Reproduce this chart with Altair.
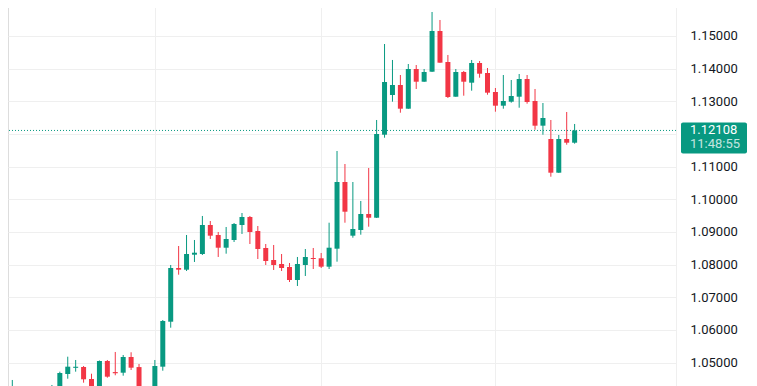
import altair as alt
import pandas as pd

# ---- data (daily candles) ----
open_ = [1.04180, 1.04260, 1.04000, 1.04100, 1.04150, 1.04200, 1.04260, 1.04653, 1.04842, 1.04868,
         1.04500, 1.04220, 1.05051, 1.04712, 1.04693, 1.05174, 1.04865, 1.04150, 1.04200, 1.04877,
         1.06254, 1.07898, 1.07846, 1.08305, 1.08326, 1.09214, 1.08908, 1.08519, 1.08755, 1.09214,
         1.09459, 1.09030, 1.08510, 1.08143, 1.08020, 1.07928, 1.07531, 1.07990, 1.08204, 1.08195,
         1.07938, 1.08489, 1.10530, 1.08887, 1.09061, 1.09551, 1.09437, 1.11978, 1.13193, 1.13499,
         1.12774, 1.13989, 1.13600, 1.13906, 1.15152, 1.14203, 1.13141, 1.13897, 1.13570, 1.14173,
         1.13867, 1.13285, 1.12866, 1.12988, 1.13141, 1.13683, 1.13010, 1.12254, 1.11846, 1.10815,
         1.11846, 1.11733]
high = [1.04470, 1.04270, 1.04200, 1.04250, 1.04260, 1.04317, 1.04724, 1.05183, 1.05082, 1.04898,
        1.04662, 1.05066, 1.05082, 1.05327, 1.05235, 1.05318, 1.04959, 1.04260, 1.05082, 1.06306,
        1.07990, 1.08571, 1.08908, 1.08755, 1.09490, 1.09336, 1.09000, 1.09153, 1.09275, 1.09581,
        1.09490, 1.09183, 1.08632, 1.08602, 1.08326, 1.08051, 1.08235, 1.08479, 1.08510, 1.08357,
        1.09284, 1.11479, 1.11081, 1.10530, 1.09949, 1.10959, 1.12428, 1.14754, 1.14265, 1.13805,
        1.14142, 1.14111, 1.13989, 1.15734, 1.15489, 1.14418, 1.13989, 1.13928, 1.14265, 1.14234,
        1.14020, 1.13407, 1.13805, 1.13652, 1.13836, 1.13805, 1.13377, 1.12948, 1.12428, 1.11969,
        1.12673, 1.12306]
low = [1.04150, 1.03950, 1.03850, 1.03950, 1.04000, 1.04100, 1.04200, 1.04509, 1.04724, 1.04387,
       1.04150, 1.04180, 1.04540, 1.04614, 1.04601, 1.04776, 1.04050, 1.03950, 1.04100, 1.04754,
       1.06070, 1.07693, 1.07806, 1.08082, 1.08296, 1.08786, 1.08235, 1.08336, 1.08694, 1.08939,
       1.08632, 1.08173, 1.07990, 1.07837, 1.07806, 1.07469, 1.07347, 1.07653, 1.07867, 1.07898,
       1.07867, 1.08091, 1.09284, 1.08825, 1.08917, 1.09162, 1.09430, 1.11886, 1.12988, 1.12651,
       1.12770, 1.13377, 1.13596, 1.13900, 1.14180, 1.13101, 1.13140, 1.13172, 1.13325, 1.13723,
       1.13202, 1.12682, 1.12774, 1.12958, 1.12804, 1.12927, 1.12131, 1.11978, 1.10692, 1.10810,
       1.11672, 1.11703]
close = [1.04260, 1.04000, 1.04100, 1.04150, 1.04200, 1.04260, 1.04684, 1.04877, 1.04875, 1.04491,
         1.04200, 1.05051, 1.04571, 1.04676, 1.05174, 1.04846, 1.04150, 1.04200, 1.04898, 1.06276,
         1.07898, 1.07846, 1.08326, 1.08366, 1.09214, 1.08887, 1.08519, 1.08786, 1.09245, 1.09459,
         1.09000, 1.08479, 1.08112, 1.07990, 1.07898, 1.07531, 1.08020, 1.08235, 1.08173, 1.07938,
         1.08519, 1.10530, 1.09621, 1.09092, 1.09551, 1.09437, 1.11999, 1.13591, 1.13499, 1.12774,
         1.13989, 1.13600, 1.13897, 1.15152, 1.14182, 1.13132, 1.13897, 1.13600, 1.14173, 1.13845,
         1.13264, 1.12866, 1.13010, 1.13163, 1.13683, 1.12979, 1.12254, 1.12489, 1.10815, 1.11846,
         1.11733, 1.12108]

price_ticks = [1.05, 1.06, 1.07, 1.08, 1.09, 1.10, 1.11, 1.12, 1.13, 1.14, 1.15, 1.16]
month_start_idx = [18, 39, 61]
last_price = 1.12108
last_price_text = "1.12108"
countdown_text = "11:48:55"

# ---- styling ----
UP = "#089981"
DOWN = "#F23645"
GRID = "#efefef"
TEXT = "#131722"
FONT = "Roboto"
PLOT_W = 668
PLOT_H = 386

df = pd.DataFrame({
    "idx": list(range(len(open_))),
    "open": open_, "high": high, "low": low, "close": close,
})
df["dir"] = ["up" if c >= o else "down" for o, c in zip(open_, close)]

xscale = alt.Scale(domain=[0.087, 83.17], nice=False, zero=False)
yscale = alt.Scale(domain=[1.042858, 1.16101], nice=False, zero=False)
color = alt.Color("dir:N", scale=alt.Scale(domain=["up", "down"], range=[UP, DOWN]), legend=None)

x_axis = alt.Axis(values=month_start_idx, labels=False, ticks=False, domain=False,
                  grid=True, gridColor=GRID, gridWidth=1, title=None)
# the tick hidden behind the last-price badge keeps its gridline but not its label
y_axis = alt.Axis(orient="right", values=price_ticks, format=".5f", title=None,
                  grid=True, gridColor=GRID, gridWidth=1,
                  domain=True, domainColor=GRID, ticks=False, tickSize=0,
                  labelPadding=14, labelAlign="left", labelBaseline="middle",
                  labelFont=FONT, labelFontSize=13, labelColor=TEXT,
                  labelOverlap=False,
                  labelExpr=f"abs(datum.value - {last_price}) < 0.004 ? '' : datum.label")

base = alt.Chart(df)

wicks = base.mark_rule(strokeWidth=1, clip=True).encode(
    x=alt.X("idx:Q", scale=xscale, axis=x_axis),
    y=alt.Y("low:Q", scale=yscale, axis=y_axis),
    y2="high:Q",
    color=color,
)

bodies = base.mark_bar(size=5, clip=True).encode(
    x=alt.X("idx:Q", scale=xscale, axis=x_axis),
    y=alt.Y("open:Q", scale=yscale, axis=y_axis),
    y2="close:Q",
    color=color,
)

last_line = alt.Chart(pd.DataFrame({"p": [last_price]})).mark_rule(
    color=UP, strokeWidth=1, strokeDash=[1, 2]
).encode(y=alt.Y("p:Q", scale=yscale, axis=y_axis))

label_df = pd.DataFrame({"p": [last_price], "t1": [last_price_text], "t2": [countdown_text]})
label_box = alt.Chart(label_df).mark_rect(
    color=UP, cornerRadius=2, yOffset=-8, y2Offset=23
).encode(
    y=alt.Y("p:Q", scale=yscale, axis=y_axis),
    y2="p:Q",
    x=alt.value(673), x2=alt.value(739),
)
label_t1 = alt.Chart(label_df).mark_text(
    align="left", baseline="middle", font=FONT, fontSize=13, color="#ffffff"
).encode(y=alt.Y("p:Q", scale=yscale, axis=y_axis), x=alt.value(682), text="t1:N")
label_t2 = alt.Chart(label_df).mark_text(
    align="left", baseline="middle", font=FONT, fontSize=13, color="#ffffff",
    opacity=0.75, dy=14
).encode(y=alt.Y("p:Q", scale=yscale, axis=y_axis), x=alt.value(682), text="t2:N")

chart = alt.layer(wicks, bodies, last_line, label_box, label_t1, label_t2).properties(
    width=PLOT_W, height=PLOT_H,
    autosize=alt.AutoSizeParams(type="none"),
    padding={"left": 0, "top": -8, "right": 73, "bottom": 0},
).configure_view(stroke=None).configure(background="#ffffff")

chart.save("out.html", embed_options={"renderer": "svg", "actions": False})
